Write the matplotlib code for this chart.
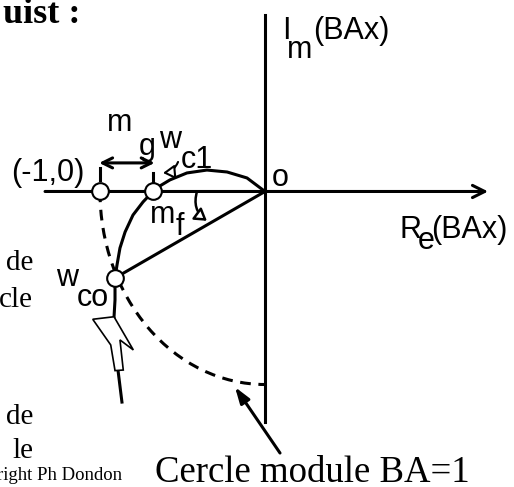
import matplotlib
matplotlib.use('Agg')
from matplotlib import pyplot as plt
from matplotlib.patches import Arc, FancyArrowPatch, Polygon

# Nyquist locus (Re, Im), unit circle = module 1
re_locus = [0.0, -0.109, -0.230, -0.352, -0.473, -0.576, -0.648, -0.679, -0.739,
            -0.800, -0.848, -0.879, -0.897, -0.909, -0.909, -0.915, -0.903,
            -0.891, -0.867]
im_locus = [0.0, 0.070, 0.101, 0.111, 0.096, 0.060, 0.023, 0.0, -0.054,
            -0.122, -0.210, -0.293, -0.381, -0.448, -0.562, -0.650, -0.795,
            -0.925, -1.091]

# remarkable points
crit_pt = (-1.0, 0.0)        # (-1,0)
wc1_pt = (-0.679, 0.0)       # crossing of the real axis
wco_pt = (-0.909, -0.448)    # crossing of the unit circle

# hollow arrow showing the sense of travel
arrow_re = [-1.044, -0.915, -0.798, -0.879, -0.859, -0.909, -0.935]
arrow_im = [-0.662, -0.649, -0.821, -0.769, -0.925, -0.928, -0.795]

mf_start = (-0.412, 0.0)
mf_end = (-0.352, -0.152)
circle_end = 270  # degrees, end of the dashed unit circle

sans = 'Liberation Sans'
serif = 'Liberation Serif'

fig = plt.figure(figsize=(5.14, 4.87), dpi=100)
ax = fig.add_axes([0, 0, 1, 1])
ax.set_xlim(-1.606, 1.509)
ax.set_ylim(-1.531, 0.992)
ax.axis('off')

lw = 2.2

# axes of the complex plane
ax.annotate('', xy=(1.352, 0), xytext=(-1.333, 0),
            arrowprops=dict(arrowstyle='->', lw=lw, color='black', mutation_scale=22,
                            shrinkA=0, shrinkB=0))
ax.plot([0, 0], [0.912, -1.194], color='black', lw=lw)

# unit circle (module BA = 1)
ax.add_patch(Arc((0, 0), 2, 2, theta1=180, theta2=circle_end, color='black',
                 lw=lw, ls=(0, (3.5, 2.5))))

# Nyquist locus
ax.plot(re_locus, im_locus, color='black', lw=lw, zorder=3)
ax.add_patch(Polygon(list(zip(arrow_re, arrow_im)), closed=True, fc='white',
                     ec='black', lw=1.2, zorder=4))

# phase margin line and arc
ax.plot([0, wco_pt[0]], [0, wco_pt[1]], color='black', lw=lw, zorder=3)
ax.add_patch(FancyArrowPatch(mf_start, mf_end,
                             connectionstyle='arc3,rad=0.35',
                             arrowstyle='-|>,head_length=0.35,head_width=0.22',
                             mutation_scale=20, lw=1.8, fc='white', ec='black',
                             shrinkA=0, shrinkB=0, zorder=3))

# gain margin
ax.annotate('', xy=(wc1_pt[0] + 0.01, 0.148), xytext=(crit_pt[0] - 0.005, 0.148),
            arrowprops=dict(arrowstyle='<->', lw=lw, color='black', mutation_scale=18,
                            shrinkA=0, shrinkB=0))
ax.plot([crit_pt[0], crit_pt[0]], [0.122, 0.059], color='black', lw=lw)
ax.plot([wc1_pt[0], wc1_pt[0]], [0.096, 0.049], color='black', lw=lw)

# small arrow pointing at wc1
ax.add_patch(FancyArrowPatch((-0.527, 0.153), (-0.618, 0.096),
                             connectionstyle='arc3,rad=-0.3',
                             arrowstyle='-|>,head_length=0.5,head_width=0.3',
                             mutation_scale=14, lw=1.5, fc='white', ec='black',
                             shrinkA=0, shrinkB=0, zorder=3))

# pointer to the unit circle
ax.annotate('', xy=(-0.182, -1.013), xytext=(0.091, -1.355),
            arrowprops=dict(arrowstyle='-|>,head_length=0.6,head_width=0.2',
                            lw=lw, color='black', mutation_scale=16,
                            shrinkA=0, shrinkB=0))

# points
for p in (crit_pt, wc1_pt, wco_pt):
    ax.plot(p[0], p[1], 'o', ms=12, mfc='white', mec='black', mew=1.5, zorder=5)

fs = 22
kw = dict(family=sans, fontsize=fs, ha='center', va='center')
ax.text(-1.315, 0.096, '(-1,0)', **kw)
ax.text(-0.879, 0.355, 'm', **kw)
ax.text(-0.715, 0.231, 'g', **kw)
ax.text(-0.576, 0.267, 'w', **kw)
ax.text(-0.412, 0.163, 'c1', **kw)
ax.text(-0.618, -0.122, 'm', **kw)
ax.text(-0.515, -0.184, 'f', **kw)
ax.text(0.091, 0.070, 'o', **kw)
ax.text(0.127, 0.832, 'I', **kw)
ax.text(0.212, 0.733, 'm', **kw)
ax.text(0.291, 0.832, '(BAx)', family=sans, fontsize=fs, ha='left', va='center')
ax.text(0.879, -0.199, 'R', **kw)
ax.text(0.976, -0.256, 'e', **kw)
ax.text(1.006, -0.199, '(BAx)', family=sans, fontsize=fs, ha='left', va='center')
ax.text(-1.2, -0.448, 'w', **kw)
ax.text(-1.042, -0.552, 'co', **kw)

# serif texts, cut by the frame in the original
ax.text(-1.121, 0.873, 'uist :', family=serif, fontsize=26, weight='bold',
        ha='right', va='baseline')
skw = dict(family=serif, fontsize=21, ha='right', va='center')
ax.text(-1.406, -0.370, 'de', **skw)
ax.text(-1.406, -0.562, 'cle', **skw)
ax.text(-1.406, -1.168, 'de', **skw)
ax.text(-1.406, -1.345, 'le', **skw)
ax.text(-0.867, -1.469, 'right Ph Dondon', family=serif, fontsize=13.5,
        ha='right', va='center')
ax.text(-0.667, -1.505, 'Cercle module BA=1', family=serif, fontsize=26.5,
        ha='left', va='baseline')

fig.savefig('out.png', dpi=100)
